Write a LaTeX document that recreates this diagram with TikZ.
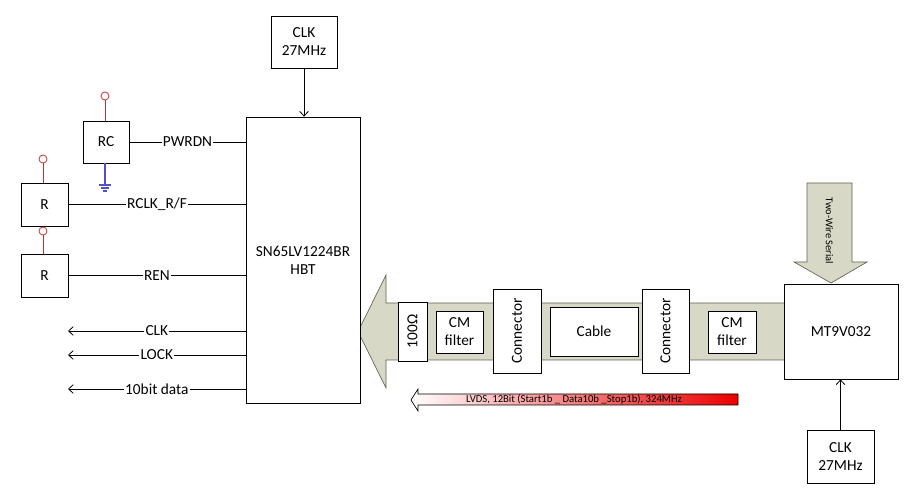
\documentclass[tikz,border=0pt]{standalone}
\usepackage{fontspec}
\setmainfont{Carlito}
\usetikzlibrary{arrows.meta,calc}
\definecolor{khaki}{RGB}{215,216,197}
\definecolor{khakiline}{RGB}{95,100,80}
\definecolor{pinred}{RGB}{200,50,50}
\definecolor{gndblue}{RGB}{80,80,200}
\definecolor{lvdsred}{RGB}{235,0,0}
\tikzset{
  box/.style={draw, line width=0.6pt, fill=white, align=center, inner sep=1pt, font=\fontsize{11.5}{13.5}\selectfont},
  wire/.style={line width=0.6pt},
  arr/.style={line width=0.6pt, -{Straight Barb[length=3.5pt,width=6.5pt]}},
  lbl/.style={fill=white, inner sep=1pt, font=\fontsize{11.5}{13.5}\selectfont},
  pin/.style={circle, draw=pinred, line width=0.6pt, minimum size=6pt, inner sep=0pt},
  pinwire/.style={draw=pinred, line width=0.6pt},
  fat/.style={fill=khaki, draw=khakiline, line width=0.5pt},
}
\begin{document}
\begin{tikzpicture}[x=0.75pt,y=-0.75pt]
\useasboundingbox (0,0) rectangle (911,498);

% big LVDS arrow
\path[fat] (785,303) -- (386,303) -- (386,275) -- (358,331.5) -- (386,388) -- (386,360) -- (785,360);

% two-wire serial arrow
\path[fat] (807,183) -- (852,183) -- (852,262) -- (867,262) -- (831,283) -- (794,262) -- (807,262) -- cycle;
\node[rotate=-90, font=\fontsize{7.8}{9}\selectfont] (tws) at (829.5,231) {Two-Wire Serial};

% main boxes
\node[box, minimum width=49.5pt, minimum height=39pt] (clktop) at (304,42) {CLK\\27MHz};
\node[box, minimum width=85.5pt, minimum height=214.5pt] (main) at (303,260) {SN65LV1224BR\\HBT};
\node[box, minimum width=34.5pt, minimum height=31.5pt] (rc) at (106,142) {RC};
\node[box, minimum width=35.25pt, minimum height=32.25pt] (r1) at (44.5,204.5) {R};
\node[box, minimum width=35.25pt, minimum height=32.25pt] (r2) at (44.5,275.5) {R};
\node[box, minimum width=85.5pt, minimum height=71.25pt] (mt) at (841,331.5) {MT9V032};
\node[box, minimum width=50.25pt, minimum height=39.75pt] (clkbot) at (840.5,456.5) {CLK\\27MHz};

% chain boxes
\node[box, rotate=90, minimum width=44.25pt, minimum height=21.75pt] (ohm) at (412.5,331.5) {100Ω};
\node[box, minimum width=35.25pt, minimum height=31.5pt] (cm1) at (459.5,332) {CM\\filter};
\node[box, rotate=90, minimum width=63pt, minimum height=36pt] (con1) at (517,331) {Connector};
\node[box, minimum width=66pt, minimum height=36.75pt] (cable) at (594,331.5) {Cable};
\node[box, rotate=90, minimum width=63pt, minimum height=35.25pt] (con2) at (665.5,331) {Connector};
\node[box, minimum width=36pt, minimum height=31.5pt] (cm2) at (732,332) {CM\\filter};

% clock arrows
\draw[arr] (clktop.south) -- (clktop.south |- main.north);
\draw[arr] (clkbot.north) -- (clkbot.north |- mt.south);

% pins
\node[pin] (p1) at (105,96) {};
\node[pin] (p2) at (43,159) {};
\node[pin] (p3) at (43,231) {};
\draw[pinwire] (p1) -- (p1 |- rc.north);
\draw[pinwire] (p2) -- (p2 |- r1.north);
\draw[pinwire] (p3) -- (p3 |- r2.north);

% ground
\coordinate (gnd) at (105,185);
\draw[gndblue, line width=0.8pt] (gnd |- rc.south) -- (gnd);
\draw[gndblue, line width=1pt] ($(gnd)+(-6,0)$) -- ($(gnd)+(6,0)$);
\draw[gndblue, line width=1pt] ($(gnd)+(-4,3)$) -- ($(gnd)+(4,3)$);
\draw[gndblue, line width=1pt] ($(gnd)+(-2,6)$) -- ($(gnd)+(2,6)$);

% input signals
\draw[wire] (rc.east) -- (rc.east -| main.west) node[lbl, midway] {PWRDN};
\draw[wire] (r1.east) -- (r1.east -| main.west) node[lbl, midway] {RCLK\_R/F};
\draw[wire] (r2.east) -- (r2.east -| main.west) node[lbl, midway] {REN};

% output signals
\coordinate (oclk) at (68,331);
\coordinate (olock) at (68,355);
\coordinate (odata) at (68,389);
\draw[arr] (oclk -| main.west) -- (oclk) node[lbl, midway] {CLK};
\draw[arr] (olock -| main.west) -- (olock) node[lbl, midway] {LOCK};
\draw[arr] (odata -| main.west) -- (odata) node[lbl, midway] {10bit data};

% LVDS gradient arrow
\path[left color=white, right color=lvdsred, draw=black, line width=0.5pt]
  (738,394) -- (418,394) -- (418,389) -- (411,400) -- (418,411) -- (418,405) -- (738,405) -- cycle;
\node[font=\fontsize{8}{9}\selectfont, inner sep=0pt] (lvds) at (574,399.5) {LVDS, 12Bit (Start1b \_ Data10b \_Stop1b), 324MHz};
\end{tikzpicture}
\end{document}
